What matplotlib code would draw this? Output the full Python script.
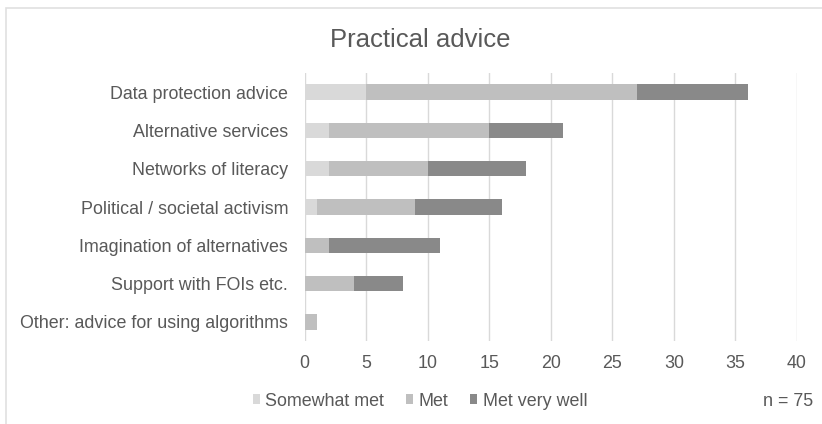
import matplotlib.pyplot as plt
from matplotlib.patches import Rectangle, Patch

categories = ['Data protection advice', 'Alternative services', 'Networks of literacy',
              'Political / societal activism', 'Imagination of alternatives',
              'Support with FOIs etc.', 'Other: advice for using algorithms']
somewhat_met = [5, 2, 2, 1, 0, 0, 0]
met = [22, 13, 8, 8, 2, 4, 1]
met_very_well = [9, 6, 8, 7, 9, 4, 0]
series_names = ['Somewhat met', 'Met', 'Met very well']
colors = ['#d9d9d9', '#bfbfbf', '#898989']
txt = '#595959'

plt.rcParams['font.family'] = ['Liberation Sans', 'DejaVu Sans']

W, H = 822, 424
fig = plt.figure(figsize=(W / 100, H / 100), dpi=100)
ax = fig.add_axes([304.7 / W, 1 - 341 / H, (797 - 304.7) / W, (341 - 73) / H])

# chart area border
fig.patches.append(Rectangle((6 / W, -0.1), 1.2, 1 - 8 / H + 0.1, transform=fig.transFigure,
                             fill=False, edgecolor='#e0e0e0', linewidth=1.2))

y = list(range(len(categories)))
left = [0] * len(categories)
for vals, name, c in zip([somewhat_met, met, met_very_well], series_names, colors):
    ax.barh(y, vals, left=left, height=0.4, color=c, label=name, zorder=3)
    left = [a + b for a, b in zip(left, vals)]

ax.set_xlim(0, 40)
ax.set_ylim(len(categories) - 0.5, -0.5)
ax.set_xticks(range(0, 41, 5))
ax.set_yticks(y)
ax.set_yticklabels(categories)
ax.grid(axis='x', color='#d9d9d9', linewidth=1, zorder=0)
for s in ax.spines.values():
    s.set_visible(False)
ax.tick_params(length=0, colors=txt, labelsize=12.9)
ax.tick_params(axis='x', pad=10)
ax.tick_params(axis='y', pad=12)

fig.text(420 / W, 1 - 40 / H, 'Practical advice', ha='center', va='center', fontsize=18.5, color=txt)

handles = [Patch(facecolor=c, edgecolor='none') for c in colors]
leg = fig.legend(handles, series_names, loc='center', bbox_to_anchor=(420 / W, 1 - 401 / H),
                 ncol=3, frameon=False, fontsize=12.9, handlelength=0.42, handleheight=0.42,
                 handletextpad=0.3, columnspacing=1.2)
for t in leg.get_texts():
    t.set_color(txt)

fig.text(813 / W, 1 - 401 / H, 'n = 75', ha='right', va='center', fontsize=12.9, color=txt)

fig.savefig('out.png', dpi=100)
